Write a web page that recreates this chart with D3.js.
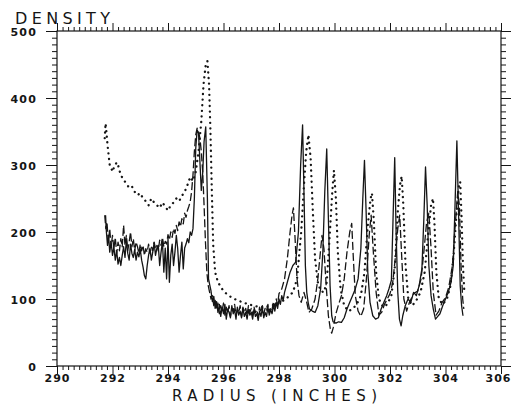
<!DOCTYPE html>
<html><head><meta charset="utf-8">
<script src="https://cdn.jsdelivr.net/npm/d3@7"></script>
<style>body{margin:0;background:#fff}svg{display:block}</style>
</head><body><svg id="c" width="513" height="405"></svg>
<script>
const xTickValues=[290,292,294,296,298,300,302,304,306];
const yTickValues=[0,100,200,300,400,500];

const solidRadius=[291.75,291.78,291.82,291.86,291.90,291.95,292.00,292.05,292.10,292.15,292.20,292.25,292.30,292.35,292.40,292.45,292.50,292.55,292.60,292.65,292.70,292.75,292.80,292.85,292.90,292.95,293.00,293.05,293.10,293.15,293.20,293.25,293.30,293.35,293.40,293.45,293.50,293.55,293.60,293.65,293.70,293.75,293.80,293.85,293.90,293.95,294.00,294.05,294.10,294.15,294.20,294.25,294.30,294.35,294.40,294.45,294.50,294.55,294.60,294.65,294.70,294.75,294.80,294.85,294.90,294.95,295.00,295.05,295.10,295.15,295.20,295.25,295.30,295.36,295.42,295.46,295.50,295.55,295.60,295.65,295.70,295.75,295.80,295.85,295.90,295.95,296.00,296.05,296.10,296.15,296.20,296.25,296.30,296.35,296.40,296.45,296.50,296.55,296.60,296.65,296.70,296.75,296.80,296.85,296.90,296.95,297.00,297.05,297.10,297.15,297.20,297.25,297.30,297.35,297.40,297.45,297.50,297.55,297.60,297.65,297.70,297.75,297.80,297.85,297.90,297.95,298.00,298.05,298.10,298.15,298.20,298.30,298.40,298.50,298.60,298.70,298.78,298.85,298.90,298.95,299.00,299.05,299.10,299.20,299.30,299.40,299.50,299.58,299.65,299.72,299.78,299.84,299.90,299.95,300.05,300.15,300.25,300.35,300.45,300.55,300.65,300.75,300.85,300.95,301.02,301.08,301.14,301.20,301.28,301.38,301.48,301.58,301.68,301.78,301.88,301.96,302.05,302.11,302.17,302.22,302.28,302.34,302.40,302.46,302.55,302.65,302.75,302.85,302.95,303.05,303.15,303.22,303.28,303.34,303.40,303.48,303.56,303.64,303.72,303.80,303.90,304.00,304.10,304.20,304.28,304.35,304.41,304.47,304.53,304.58,304.63];
const solidDensity=[225,200,180,195,170,185,165,178,158,172,152,162,150,165,178,162,188,168,158,182,168,162,174,158,170,163,174,158,148,135,130,150,165,176,158,170,184,165,176,180,150,170,186,140,176,130,190,125,165,182,150,170,195,175,140,165,185,145,176,182,190,184,200,195,205,250,325,352,348,305,262,288,335,357,250,130,122,112,96,104,86,96,80,92,74,88,78,92,70,85,80,72,90,78,84,70,88,76,82,72,86,74,80,70,84,76,80,70,85,74,78,68,82,74,86,72,80,74,88,76,84,78,90,82,95,86,100,92,105,98,110,125,140,150,155,200,300,360,260,150,110,95,85,82,80,90,115,170,260,324,220,120,75,66,64,66,65,72,85,95,105,115,130,175,250,307,230,140,95,75,70,72,85,95,105,115,128,220,311,200,110,70,60,75,90,100,95,110,105,120,145,220,297,240,150,105,85,70,74,78,90,100,110,125,150,250,336,230,120,90,75];

const dashedRadius=[291.72,291.76,291.80,291.85,291.90,291.95,292.00,292.05,292.10,292.15,292.20,292.25,292.30,292.35,292.40,292.45,292.50,292.55,292.60,292.65,292.70,292.75,292.80,292.85,292.90,292.95,293.00,293.05,293.10,293.15,293.20,293.25,293.30,293.35,293.40,293.45,293.50,293.55,293.60,293.65,293.70,293.75,293.80,293.85,293.90,293.95,294.00,294.05,294.10,294.15,294.20,294.25,294.30,294.35,294.40,294.45,294.50,294.55,294.60,294.65,294.70,294.75,294.80,294.85,294.90,294.95,295.00,295.05,295.10,295.15,295.20,295.25,295.30,295.35,295.40,295.45,295.50,295.55,295.60,295.65,295.70,295.75,295.80,295.85,295.90,295.95,296.00,296.05,296.10,296.15,296.20,296.25,296.30,296.35,296.40,296.45,296.50,296.55,296.60,296.65,296.70,296.75,296.80,296.85,296.90,296.95,297.00,297.05,297.10,297.15,297.20,297.25,297.30,297.35,297.40,297.45,297.50,297.55,297.60,297.65,297.70,297.75,297.80,297.85,297.90,297.95,298.00,298.10,298.20,298.30,298.40,298.47,298.52,298.58,298.65,298.72,298.80,298.90,299.00,299.08,299.18,299.30,299.40,299.48,299.55,299.62,299.70,299.78,299.85,299.90,299.96,300.05,300.15,300.25,300.35,300.45,300.55,300.62,300.68,300.75,300.85,300.95,301.05,301.15,301.25,301.32,301.40,301.50,301.60,301.70,301.80,301.90,302.00,302.10,302.20,302.28,302.35,302.42,302.50,302.60,302.70,302.85,303.00,303.12,303.22,303.32,303.40,303.48,303.56,303.66,303.76,303.88,304.00,304.12,304.25,304.35,304.44,304.50,304.56,304.62,304.66];
const dashedDensity=[225,205,215,185,205,178,195,175,192,168,185,172,190,178,210,180,195,172,185,200,178,190,172,185,178,168,182,172,180,165,175,170,182,168,178,172,185,175,180,172,188,180,192,178,186,182,196,188,200,192,205,198,210,202,215,208,220,212,228,222,232,238,245,260,285,320,345,355,350,340,320,290,240,185,140,120,110,100,105,90,98,84,94,78,90,82,94,76,88,80,90,74,86,82,92,76,84,80,90,74,88,80,86,76,90,80,86,76,88,80,84,74,88,80,90,78,86,82,92,80,88,84,96,88,100,92,108,115,130,160,200,225,236,190,130,105,95,110,95,80,85,100,130,165,195,175,120,75,55,49,58,78,92,105,130,170,200,213,160,105,82,74,85,130,195,225,170,110,76,80,92,100,108,125,165,205,225,165,100,82,95,108,112,130,170,215,228,175,110,76,82,95,102,118,150,210,260,240,150,100,85];

const dottedRadius=[291.72,291.75,291.78,291.82,291.86,291.90,291.95,292.00,292.05,292.10,292.15,292.20,292.25,292.30,292.40,292.50,292.60,292.70,292.80,292.90,293.00,293.10,293.20,293.30,293.40,293.50,293.60,293.70,293.80,293.90,294.00,294.10,294.20,294.30,294.40,294.50,294.60,294.70,294.80,294.90,295.00,295.10,295.20,295.28,295.36,295.42,295.48,295.53,295.58,295.63,295.70,295.80,295.95,296.10,296.30,296.50,296.70,296.90,297.10,297.30,297.50,297.70,297.90,298.10,298.30,298.50,298.65,298.80,298.90,298.98,299.06,299.14,299.22,299.30,299.40,299.50,299.62,299.72,299.82,299.92,299.98,300.05,300.12,300.22,300.35,300.50,300.65,300.80,300.95,301.08,301.20,301.30,301.35,301.42,301.50,301.60,301.75,301.90,302.05,302.18,302.28,302.36,302.42,302.48,302.56,302.66,302.80,302.95,303.10,303.25,303.38,303.48,303.55,303.60,303.67,303.76,303.90,304.05,304.18,304.30,304.40,304.48,304.53,304.58,304.63,304.68];
const dottedDensity=[340,362,350,330,315,300,296,290,296,300,304,300,292,285,278,272,266,268,260,255,258,250,246,240,250,244,240,236,244,238,232,240,244,250,246,254,260,270,282,276,290,320,365,420,450,455,420,350,260,180,140,125,115,108,102,98,95,92,90,88,88,90,92,96,102,110,130,200,270,320,345,310,230,160,125,112,110,125,190,260,292,250,170,115,90,82,85,92,105,140,210,250,258,215,140,100,88,92,105,150,230,270,283,240,150,100,90,98,110,140,200,240,250,215,140,100,92,100,120,170,230,268,275,220,150,110];

const svg=d3.select('#c');
const x=d3.scaleLinear().domain([290,306]).range([57,501]);
const y=d3.scaleLinear().domain([0,500]).range([366,31]);
const ink='#151515';
const xMinor=d3.range(0,81).map(i=>290+i*0.2).filter(v=>Math.abs((v-290)/2-Math.round((v-290)/2))>0.01);
const yMinor=d3.range(0,51).map(i=>i*10).filter(v=>v%100!==0);

function axisG(gen,tr){
  const g=svg.append('g').attr('transform',tr).call(gen);
  g.select('.domain').remove();
  g.selectAll('line').attr('stroke',ink).attr('stroke-width',1);
  return g;
}
axisG(d3.axisBottom(x).tickValues(xMinor).tickSize(4).tickFormat(''),'translate(0,366)');
axisG(d3.axisTop(x).tickValues(xMinor).tickSize(4).tickFormat(''),'translate(0,31)');
axisG(d3.axisLeft(y).tickValues(yMinor).tickSize(5).tickFormat(''),'translate(57,0)');
axisG(d3.axisRight(y).tickValues(yMinor).tickSize(5).tickFormat(''),'translate(501,0)');
const gb=axisG(d3.axisBottom(x).tickValues(xTickValues).tickSize(8).tickPadding(0).tickFormat(d3.format('d')),'translate(0,366)');
gb.selectAll('text').attr('font-family','DejaVu Sans').attr('font-size',11).attr('font-weight','bold').attr('letter-spacing',1).attr('fill',ink)
  .attr('dx',d=>d===306?-3:0);
axisG(d3.axisTop(x).tickValues(xTickValues).tickSize(8).tickFormat(''),'translate(0,31)');
const gl=axisG(d3.axisLeft(y).tickValues(yTickValues).tickSize(11).tickPadding(9).tickFormat(d3.format('d')),'translate(57,0)');
gl.selectAll('text').attr('font-family','DejaVu Sans').attr('font-size',11).attr('font-weight','bold').attr('letter-spacing',1.2).attr('dy','0.45em').attr('fill',ink);
axisG(d3.axisRight(y).tickValues(yTickValues).tickSize(10).tickFormat(''),'translate(501,0)');

svg.append('rect').attr('x',x(290)).attr('y',y(500)).attr('width',x(306)-x(290)).attr('height',y(0)-y(500))
  .attr('fill','none').attr('stroke',ink).attr('stroke-width',1.2);

const line=d3.line().x(d=>x(d[0])).y(d=>y(d[1]));
function series(rx,dy,dash,w,cap){
  svg.append('path').datum(rx.map((r,i)=>[r,dy[i]])).attr('d',line)
    .attr('fill','none').attr('stroke',ink).attr('stroke-width',w)
    .attr('stroke-dasharray',dash).attr('stroke-linecap',cap).attr('stroke-linejoin','round');
}
series(solidRadius,solidDensity,null,1.3,'butt');
series(dashedRadius,dashedDensity,'8,3',1.3,'butt');
series(dottedRadius,dottedDensity,'0.1,5.5',2.3,'round');

svg.append('text').attr('x',15).attr('y',24).attr('font-family','DejaVu Sans').attr('font-size',16)
  .attr('textLength',95).attr('lengthAdjust','spacing').attr('fill',ink).text('DENSITY');
svg.append('text').attr('x',172).attr('y',400.5).attr('font-family','DejaVu Sans').attr('font-size',15)
  .attr('textLength',205).attr('lengthAdjust','spacing').attr('fill',ink).text('RADIUS (INCHES)');
</script></body></html>
